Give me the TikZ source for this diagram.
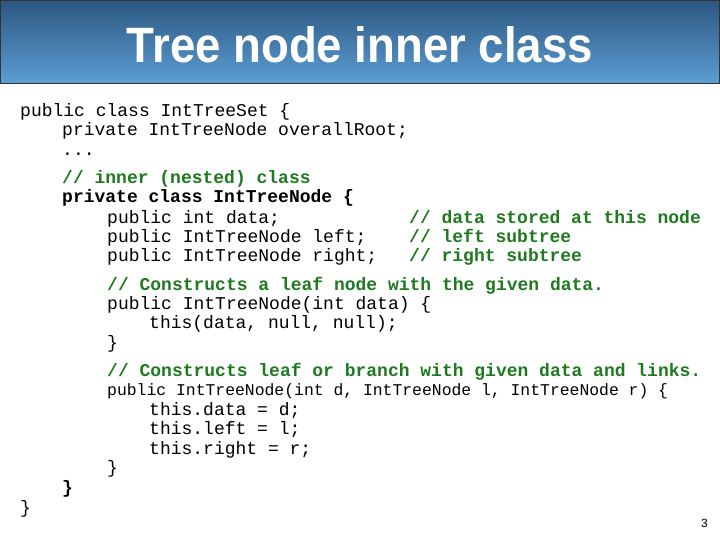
\documentclass[tikz,border=0pt]{standalone}
\usepackage{fontspec}
\setmainfont{Liberation Sans}
\newfontfamily\codefont{Liberation Mono}
\usepackage{graphicx}
\definecolor{hdtop}{HTML}{2C5780}
\definecolor{hdbot}{HTML}{5C9ED4}
\definecolor{cmt}{HTML}{1E7A1E}
\begin{document}
\begin{tikzpicture}[x=1pt,y=-1pt,
  code/.style={anchor=base west,inner sep=0pt,font=\codefont\fontsize{18}{18}\selectfont},
  small/.style={anchor=base west,inner sep=0pt,font=\codefont\fontsize{16.4}{16.4}\selectfont},
  comment/.style={code,text=cmt,font=\codefont\bfseries\fontsize{18}{18}\selectfont},
  bd/.style={code,font=\codefont\bfseries\fontsize{18}{18}\selectfont}]
\useasboundingbox (0,0) rectangle (720,540);
\fill[white] (0,0) rectangle (720,540);
\shade[top color=hdtop,bottom color=hdbot] (0,0) rectangle (720,84);
\draw[black!80,line width=1pt] (0.5,0.5) rectangle (719.5,84);
\node[text=white,inner sep=0pt] (title) at (360,45) {\resizebox{466pt}{36pt}{\bfseries Tree node inner class}};
\node[code] (l1) at (20,117) {public class IntTreeSet \{};
\node[code] (l2) at (62,136) {private IntTreeNode overallRoot;};
\node[code] (l3) at (62,156) {...};
\node[comment] (l4) at (62,184) {// inner (nested) class};
\node[bd] (l5) at (62,203) {private class IntTreeNode \{};
\node[code] (l6) at (107,223) {public int data;};
\node[comment] (c6) at (409,223) {// data stored at this node};
\node[code] (l7) at (107,242) {public IntTreeNode left;};
\node[comment] (c7) at (409,242) {// left subtree};
\node[code] (l8) at (107,261) {public IntTreeNode right;};
\node[comment] (c8) at (409,261) {// right subtree};
\node[comment] (l9) at (107,290) {// Constructs a leaf node with the given data.};
\node[code] (l10) at (107,309) {public IntTreeNode(int data) \{};
\node[code] (l11) at (149,328) {this(data, null, null);};
\node[code] (l12) at (107,348) {\}};
\node[comment] (l13) at (107,376) {// Constructs leaf or branch with given data and links.};
\node[small] (l14) at (107,395) {public IntTreeNode(int d, IntTreeNode l, IntTreeNode r) \{};
\node[code] (l15) at (149,415) {this.data = d;};
\node[code] (l16) at (149,434) {this.left = l;};
\node[code] (l17) at (149,454) {this.right = r;};
\node[code] (l18) at (107,473) {\}};
\node[bd] (l19) at (62,493) {\}};
\node[code] (l20) at (20,513) {\}};
\node[anchor=base east,inner sep=0pt,font=\fontsize{12}{12}\selectfont] (pg) at (708,527) {3};
\end{tikzpicture}
\end{document}
